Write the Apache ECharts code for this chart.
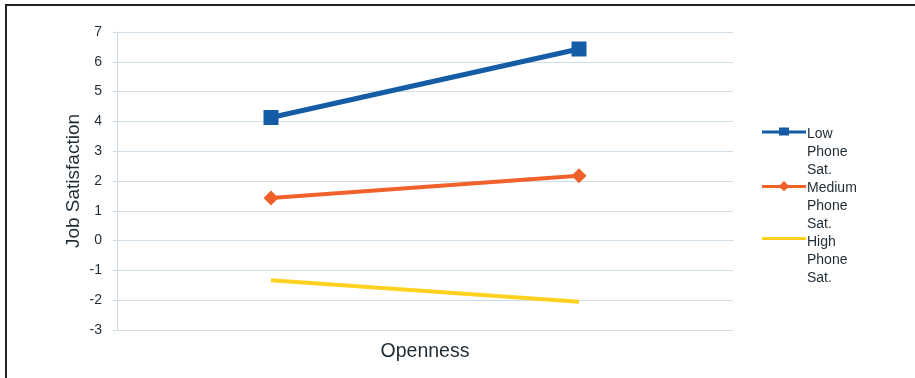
<!DOCTYPE html>
<html lang="en">
<head>
    <meta charset="UTF-8">
    <title>Job Satisfaction by Openness</title>
    <style>
        html, body { margin: 0; padding: 0; background: #fff; }
        #chart { width: 915px; height: 378px; }
    </style>
    <script src="https://cdn.jsdelivr.net/npm/echarts@6/dist/echarts.min.js"></script>
</head>
<body>
<div id="chart"></div>
<script>
    // data
    var categories = ['Low Openness', 'High Openness'];
    var lowPhone = [4.13, 6.43];
    var mediumPhone = [1.43, 2.18];
    var highPhone = [-1.33, -2.05];
    var seriesNames = ['Low\nPhone\nSat.', 'Medium\nPhone\nSat.', 'High\nPhone\nSat.'];
    var yTicks = [-3, -2, -1, 0, 1, 2, 3, 4, 5, 6, 7];

    var textColor = '#1f2b35';
    var blue = '#155ca6', orange = '#f0612b', yellow = '#ffd21f';

    // legend icons: line near the top of a 44x54 box so it sits on the first text line
    var anchor = ' M0,54 L44,54';
    var iconLow = 'path://M0,8 L17,8 L17,5 L27,5 L27,8 L44,8 L44,11 L27,11 L27,13 L17,13 L17,11 L0,11 Z' + anchor;
    var iconMed = 'path://M0,8 L18,8 L22,4 L26,8 L44,8 L44,11 L26,11 L22,14 L18,11 L0,11 Z' + anchor;
    var iconHigh = 'path://M0,8 L44,8 L44,11 L0,11 Z' + anchor;

    var chart = echarts.init(document.getElementById('chart'));

    var option = {
        animation: false,
        grid: { left: 117, right: 182, top: 32, bottom: 48 },
        legend: {
            orient: 'vertical',
            left: 757,
            top: 120,
            itemWidth: 44,
            itemHeight: 54,
            itemGap: 0,
            textStyle: { color: textColor, fontSize: 14, fontFamily: 'Liberation Sans', lineHeight: 18, padding: [0, 0, 0, -4] },
            data: [
                { name: seriesNames[0], icon: iconLow },
                { name: seriesNames[1], icon: iconMed },
                { name: seriesNames[2], icon: iconHigh }
            ]
        },
        xAxis: {
            type: 'category',
            data: categories,
            boundaryGap: true,
            name: 'Openness',
            nameLocation: 'middle',
            nameGap: 12,
            nameTextStyle: { color: textColor, fontSize: 19.5, fontFamily: 'Liberation Sans' },
            axisLine: { show: true, lineStyle: { color: '#cfdde6' } },
            axisTick: { show: false },
            axisLabel: { show: false },
            splitLine: { show: false }
        },
        yAxis: {
            type: 'value',
            min: yTicks[0],
            max: yTicks[yTicks.length - 1],
            interval: 1,
            name: 'Job Satisfaction',
            nameLocation: 'middle',
            nameGap: 34,
            nameMoveOverlap: false,
            nameTextStyle: { color: textColor, fontSize: 19, fontFamily: 'Liberation Sans' },
            axisLine: { show: true, lineStyle: { color: '#cfdde6' } },
            axisTick: { show: true, length: 4, lineStyle: { color: '#cfdde6' } },
            axisLabel: { color: textColor, fontSize: 14, fontFamily: 'Liberation Sans', margin: 15 },
            splitLine: { show: true, lineStyle: { color: '#cfdde6', width: 1 } }
        },
        series: [
            {
                name: seriesNames[0],
                type: 'line',
                data: lowPhone,
                symbol: 'rect',
                symbolSize: 15,
                lineStyle: { color: blue, width: 5 },
                itemStyle: { color: blue }
            },
            {
                name: seriesNames[1],
                type: 'line',
                data: mediumPhone,
                symbol: 'diamond',
                symbolSize: 15,
                lineStyle: { color: orange, width: 4 },
                itemStyle: { color: orange }
            },
            {
                name: seriesNames[2],
                type: 'line',
                data: highPhone,
                symbol: 'none',
                lineStyle: { color: yellow, width: 4 },
                itemStyle: { color: yellow }
            }
        ],
        graphic: [
            { type: 'line', shape: { x1: 5, y1: 5, x2: 915, y2: 5 }, style: { stroke: '#222', lineWidth: 2 } },
            { type: 'line', shape: { x1: 6, y1: 4, x2: 6, y2: 378 }, style: { stroke: '#222', lineWidth: 2 } }
        ]
    };
    chart.setOption(option);
</script>
</body>
</html>
